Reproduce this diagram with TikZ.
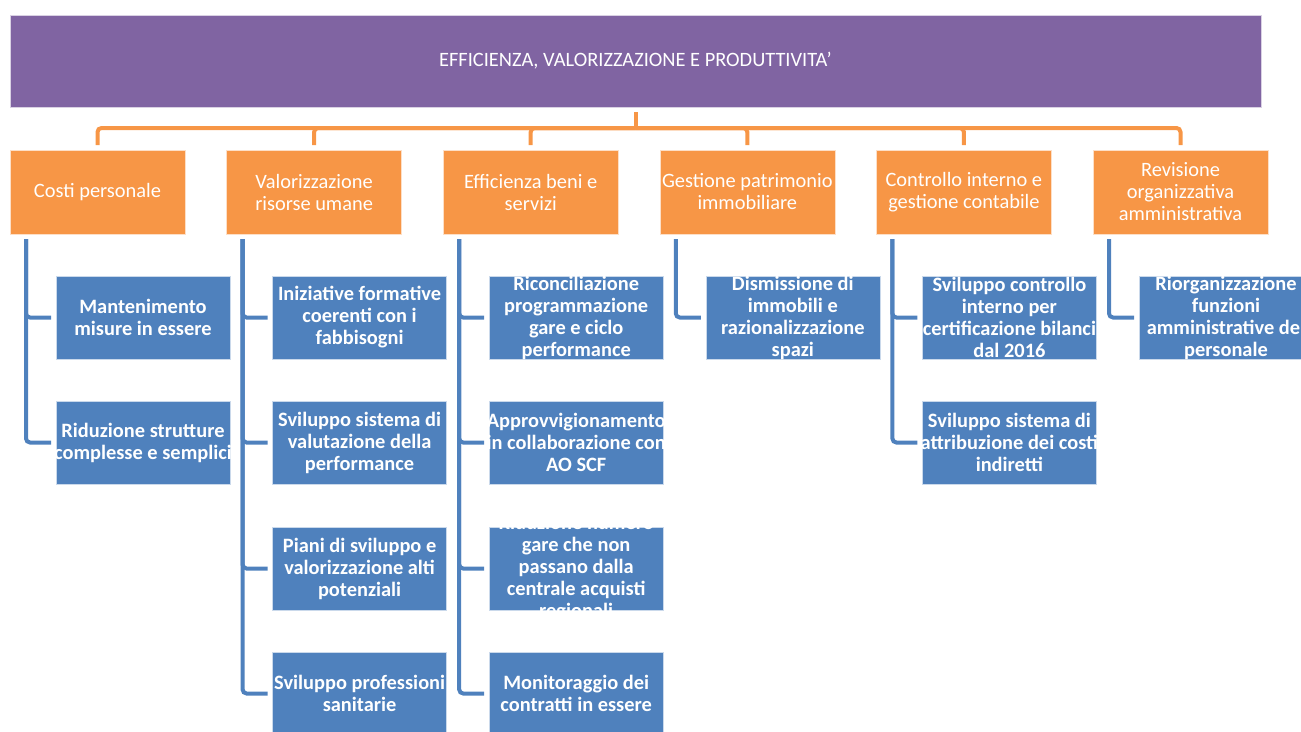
\documentclass[tikz,border=0pt]{standalone}
\usepackage{fontspec}
\setmainfont{Carlito}
\definecolor{titlepurple}{HTML}{8064A2}
\definecolor{headorange}{HTML}{F79646}
\definecolor{itemblue}{HTML}{4F81BD}
\tikzset{
  titlebox/.style={fill=titlepurple, draw=white!70!titlepurple, text=white, minimum width=1251pt, minimum height=92pt, inner sep=0pt, outer sep=5pt, font=\fontsize{20.4}{22}\selectfont},
  headbox/.style={fill=headorange, draw=white!70!headorange, text=white, minimum width=175pt, minimum height=84pt, inner xsep=-3pt, inner ysep=0pt, outer sep=5pt, align=center, font=\fontsize{20.4}{22}\selectfont},
  itembox/.style={fill=itemblue, draw=white!70!itemblue, text=white, minimum width=174pt, minimum height=83pt, inner xsep=-15pt, inner ysep=-20pt, outer sep=5pt, align=center, font=\bfseries\fontsize{20.4}{22}\selectfont},
  orangelink/.style={draw=headorange, line width=4pt, rounded corners=4pt},
  bluelink/.style={draw=itemblue, line width=4pt, rounded corners=4pt}
}
\begin{document}
\begin{tikzpicture}[x=1pt,y=-1pt]
        \useasboundingbox (0,0) rectangle (1301,731);

        \node[titlebox] (title) at (635.5,61) {EFFICIENZA, VALORIZZAZIONE E PRODUTTIVITA’};
        \coordinate (bus) at (635.5,128);

        \begin{scope}[shift={(10,0)}]
        \node[headbox] (costi) at (87.5,192) {Costi personale};
        \coordinate (costispine) at (16,239);
        \node[itembox] (costi1) at (133,317.5) {Mantenimento\\misure in essere};
        \node[itembox] (costi2) at (133,442.5) {Riduzione strutture\\complesse e semplici};
        \end{scope}\begin{scope}[shift={(226.6,0)}]
        \node[headbox] (valor) at (87.5,192) {Valorizzazione\\risorse umane};
        \coordinate (valorspine) at (16,239);
        \node[itembox] (valor1) at (133,317.5) {Iniziative formative\\coerenti con i\\fabbisogni};
        \node[itembox] (valor2) at (133,442.5) {Sviluppo sistema di\\valutazione della\\performance};
        \node[itembox] (valor3) at (133,568.5) {Piani di sviluppo e\\valorizzazione alti\\potenziali};
        \node[itembox] (valor4) at (133,693.5) {Sviluppo professioni\\sanitarie};
        \end{scope}\begin{scope}[shift={(443.2,0)}]
        \node[headbox] (effic) at (87.5,192) {Efficienza beni e\\servizi};
        \coordinate (efficspine) at (16,239);
        \node[itembox] (effic1) at (133,317.5) {Riconciliazione\\programmazione\\gare e ciclo\\performance};
        \node[itembox] (effic2) at (133,442.5) {Approvvigionamento\\in collaborazione con\\AO SCF};
        \node[itembox] (effic3) at (133,568.5) {Riduzione numero\\gare che non\\passano dalla\\centrale acquisti\\regionali};
        \node[itembox] (effic4) at (133,693.5) {Monitoraggio dei\\contratti in essere};
        \end{scope}\begin{scope}[shift={(659.8,0)}]
        \node[headbox] (patrim) at (87.5,192) {Gestione patrimonio\\immobiliare};
        \coordinate (patrimspine) at (16,239);
        \node[itembox] (patrim1) at (133,317.5) {Dismissione di\\immobili e\\razionalizzazione\\spazi};
        \end{scope}\begin{scope}[shift={(876.4,0)}]
        \node[headbox] (contr) at (87.5,192) {Controllo interno e\\gestione contabile};
        \coordinate (contrspine) at (16,239);
        \node[itembox] (contr1) at (133,317.5) {Sviluppo controllo\\interno per\\certificazione bilanci\\dal 2016};
        \node[itembox] (contr2) at (133,442.5) {Sviluppo sistema di\\attribuzione dei costi\\indiretti};
        \end{scope}\begin{scope}[shift={(1093,0)}]
        \node[headbox] (revis) at (87.5,192) {Revisione\\organizzativa\\amministrativa};
        \coordinate (revisspine) at (16,239);
        \node[itembox] (revis1) at (133,317.5) {Riorganizzazione\\funzioni\\amministrative del\\personale};
        \end{scope}

        \draw[orangelink] (title) -- (bus);
        \draw[orangelink] (bus) -| (costi);
        \draw[orangelink] (bus) -| (valor);
        \draw[orangelink] (bus) -| (effic);
        \draw[orangelink] (bus) -| (patrim);
        \draw[orangelink] (bus) -| (contr);
        \draw[orangelink] (bus) -| (revis);

        \draw[bluelink] (costispine) |- (costi1);
        \draw[bluelink] (costispine) |- (costi2);
        \draw[bluelink] (valorspine) |- (valor1);
        \draw[bluelink] (valorspine) |- (valor2);
        \draw[bluelink] (valorspine) |- (valor3);
        \draw[bluelink] (valorspine) |- (valor4);
        \draw[bluelink] (efficspine) |- (effic1);
        \draw[bluelink] (efficspine) |- (effic2);
        \draw[bluelink] (efficspine) |- (effic3);
        \draw[bluelink] (efficspine) |- (effic4);
        \draw[bluelink] (patrimspine) |- (patrim1);
        \draw[bluelink] (contrspine) |- (contr1);
        \draw[bluelink] (contrspine) |- (contr2);
        \draw[bluelink] (revisspine) |- (revis1);
\end{tikzpicture}
\end{document}
